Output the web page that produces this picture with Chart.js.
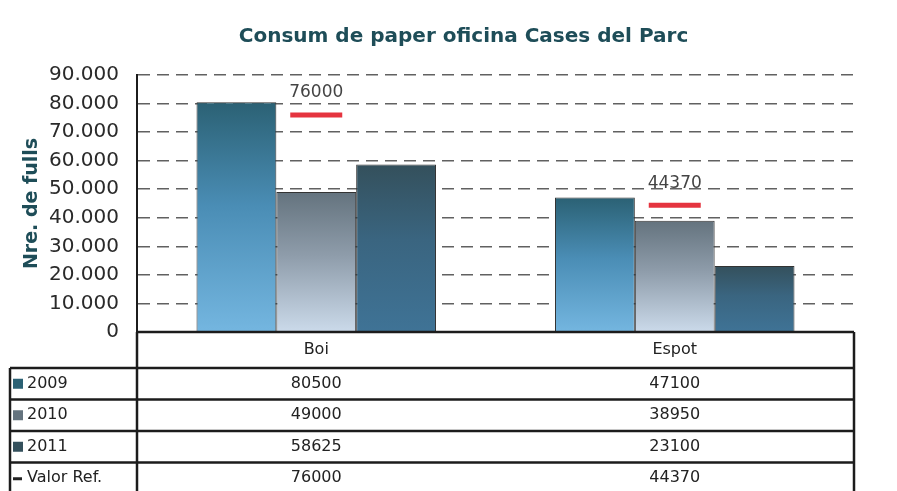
<!DOCTYPE html>
<html><head><meta charset="utf-8">
<script src="https://cdn.jsdelivr.net/npm/chart.js@4/dist/chart.umd.min.js"></script>
<style>html,body{margin:0;padding:0;background:#fff;}#wrap{width:897px;height:491px;position:relative;}</style>
</head><body><div id="wrap"><canvas id="c" width="897" height="491"></canvas></div>
<script>
const chartTitle = 'Consum de paper oficina Cases del Parc';
const yAxisTitle = 'Nre. de fulls';
const categories = ['Boi', 'Espot'];
const seriesNames = ['2009', '2010', '2011', 'Valor Ref.'];
const values2009 = [80500, 47100];
const values2010 = [49000, 38950];
const values2011 = [58625, 23100];
const valuesRef = [76000, 44370];
const yTickValues = [0, 10000, 20000, 30000, 40000, 50000, 60000, 70000, 80000, 90000];
const yTickLabels = ['0', '10.000', '20.000', '30.000', '40.000', '50.000', '60.000', '70.000', '80.000', '90.000'];

const gradTop = ['#2b6174', '#64737e', '#34505c'];
const gradMid = ['#4a8db5', '#8e9caa', '#3a6580'];
const gradBottom = ['#74b6e0', '#cbdaea', '#3f7396'];
const refColor = '#e5343f';
const lineColor = '#1c1c1c';

function barGradient(i) {
  return (ctx) => {
    const c = ctx.chart;
    const ys = c.scales && c.scales.y;
    if (!c.chartArea || !ys || ctx.type !== 'data') return gradBottom[i];
    const yTop = ys.getPixelForValue(ctx.raw);
    const yBot = ys.getPixelForValue(0);
    if (!isFinite(yTop) || !isFinite(yBot)) return gradBottom[i];
    const g = c.ctx.createLinearGradient(0, yTop, 0, yBot);
    g.addColorStop(0, gradTop[i]);
    g.addColorStop(0.45, gradMid[i]);
    g.addColorStop(1, gradBottom[i]);
    return g;
  };
}

const seriesValues = [values2009, values2010, values2011, valuesRef];

const titlePlugin = {
  id: 'titleText',
  afterDraw(chart) {
    const {ctx, chartArea} = chart;
    ctx.save();
    ctx.font = 'bold 20px "DejaVu Sans"';
    ctx.fillStyle = '#1e4d58';
    ctx.textAlign = 'center';
    ctx.textBaseline = 'middle';
    ctx.fillText(chartTitle, (chartArea.left + chartArea.right) / 2 - 32, 37);
    ctx.restore();
  }
};

const refLabelPlugin = {
  id: 'refLabels',
  afterDatasetsDraw(chart) {
    const meta = chart.getDatasetMeta(3);
    const ctx = chart.ctx;
    ctx.save();
    ctx.font = '17px "DejaVu Sans"';
    ctx.fillStyle = '#444';
    ctx.textAlign = 'center';
    ctx.textBaseline = 'middle';
    meta.data.forEach((pt, i) => {
      ctx.fillText(String(valuesRef[i]), pt.x, pt.y - 22);
    });
    ctx.restore();
  }
};

const tablePlugin = {
  id: 'dataTable',
  afterDraw(chart) {
    const {ctx, chartArea, scales} = chart;
    const xs = categories.map((_, i) => scales.x.getPixelForValue(i));
    const left = chartArea.left, right = chartArea.right;
    const labelLeft = 10;
    const top = chartArea.bottom;
    const headerH = 36, rowH = 31.5;
    const bottom = chart.height + 5;
    ctx.save();
    ctx.strokeStyle = lineColor;
    ctx.lineWidth = 2.5;
    ctx.beginPath();
    ctx.moveTo(left, top); ctx.lineTo(right, top);
    ctx.moveTo(left, top); ctx.lineTo(left, bottom);
    ctx.moveTo(right, top); ctx.lineTo(right, bottom);
    ctx.moveTo(labelLeft, top + headerH); ctx.lineTo(labelLeft, bottom);
    for (let r = 0; r < seriesNames.length; r++) {
      const y = top + headerH + r * rowH;
      ctx.moveTo(labelLeft, y); ctx.lineTo(right, y);
    }
    ctx.stroke();
    ctx.fillStyle = '#222';
    ctx.textAlign = 'center';
    ctx.textBaseline = 'middle';
    ctx.font = '16px "DejaVu Sans"';
    categories.forEach((c, i) => ctx.fillText(c, xs[i], top + headerH / 2));
    seriesNames.forEach((name, r) => {
      const yc = top + headerH + r * rowH + rowH / 2;
      ctx.textAlign = 'center';
      seriesValues[r].forEach((v, i) => ctx.fillText(String(v), xs[i], yc));
      if (r < 3) {
        ctx.fillStyle = gradTop[r];
        ctx.fillRect(labelLeft + 3, yc - 5, 10, 10);
      } else {
        ctx.fillStyle = '#222';
        ctx.fillRect(labelLeft + 3, yc - 1, 9, 3);
      }
      ctx.fillStyle = '#222';
      ctx.textAlign = 'left';
      ctx.fillText(name, labelLeft + 17, yc);
    });
    ctx.restore();
  }
};

const barDs = (i, data) => ({
  type: 'bar',
  label: seriesNames[i],
  data: data,
  backgroundColor: barGradient(i),
  borderColor: '#333',
  borderWidth: 1,
  categoryPercentage: 0.668,
  barPercentage: 1.0,
  order: 2
});

new Chart(document.getElementById('c'), {
  data: {
    labels: categories,
    datasets: [
      barDs(0, values2009),
      barDs(1, values2010),
      barDs(2, values2011),
      {
        type: 'line',
        label: seriesNames[3],
        data: valuesRef,
        showLine: false,
        pointStyle: 'line',
        pointRadius: 26,
        pointBorderWidth: 5,
        borderColor: refColor,
        backgroundColor: refColor,
        order: 1
      }
    ]
  },
  options: {
    responsive: false,
    animation: false,
    layout: {padding: {top: 75, left: 10, right: 43, bottom: 159}},
    plugins: {legend: {display: false}, tooltip: {enabled: false}, title: {display: false}},
    scales: {
      x: {display: false, offset: true},
      y: {
        min: 0, max: 90000,
        afterBuildTicks: (s) => { s.ticks = yTickValues.map(v => ({value: v})); },
        afterFit: (s) => { s.width = 127; },
        ticks: {
          callback: (v) => yTickLabels[yTickValues.indexOf(v)],
          font: {family: 'DejaVu Sans', size: 20},
          color: '#2a2a2a',
          padding: 18
        },
        grid: {color: 'rgba(30,30,30,0.7)', lineWidth: 1.5, drawTicks: false},
        border: {display: true, color: lineColor, width: 2, dash: [12, 7]},
        title: {display: true, text: yAxisTitle, font: {family: 'DejaVu Sans', size: 19, weight: 'bold'}, color: '#1e4d58', padding: {top: 11, bottom: 0}}
      }
    }
  },
  plugins: [titlePlugin, refLabelPlugin, tablePlugin]
});
</script></body></html>
